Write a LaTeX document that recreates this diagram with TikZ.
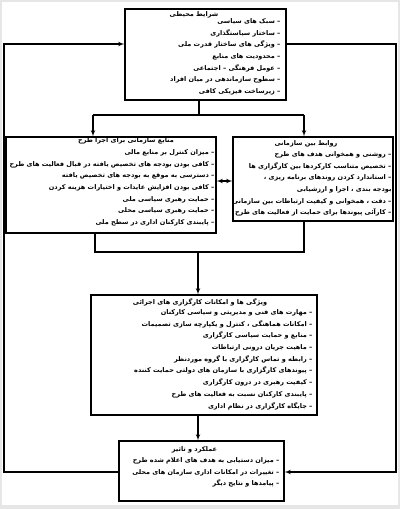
\documentclass[tikz,border=0pt]{standalone}
\usepackage{fontspec}
\usepackage{tikz}
\usetikzlibrary{arrows}
\newfontfamily\arabicfont[Script=Arabic]{DejaVu Sans}
\TeXXeTstate=1
\newcommand{\fa}[1]{\beginR #1\endR}
\definecolor{framegray}{RGB}{230,230,230}

\begin{document}
\begin{tikzpicture}[x=1pt,y=-1pt,>=latex',line width=1.1pt,
    box node/.style={draw,rectangle,inner sep=0pt},
    list node/.style={inner sep=0pt,align=right,font=\arabicfont\bfseries\fontsize{6.5}{11.7}\selectfont},
    title node/.style={inner sep=0pt,font=\arabicfont\bfseries\fontsize{6.5}{11.7}\selectfont}]
  \fill[framegray] (0,0) rectangle (400,509);
  \fill[white] (2,2) rectangle (398,505);
  \useasboundingbox (0,0) rectangle (400,509);

  % boxes
  \node[box node,minimum width=161pt,minimum height=91pt] (env) at (205.5,54.5) {};
  \node[box node,minimum width=210pt,minimum height=96pt] (res) at (111,185) {};
  \node[box node,minimum width=160pt,minimum height=84pt] (rel) at (313,179) {};
  \node[box node,minimum width=226pt,minimum height=120pt] (agency) at (204,355) {};
  \node[box node,minimum width=165pt,minimum height=60pt] (perf) at (201.5,471) {};

  % texts
  \node[title node] (envtitle) at (194,15) {\fa{شرایط محیطی}};
  \node[list node,anchor=north east] (envlist) at (281,18) {%
    \fa{– سبک های سیاسی}\\
    \fa{– ساختار سیاستگذاری}\\
    \fa{– ویژگی های ساختار قدرت ملی}\\
    \fa{– محدودیت های منابع}\\
    \fa{– عومل فرهنگی – اجتماعی}\\
    \fa{– سطوح سازماندهی در میان افراد}\\
    \fa{– زیرساخت فیزیکی کافی}};

  \node[title node] (restitle) at (126,141) {\fa{منابع سازمانی برای اجرا طرح}};
  \node[list node,anchor=north east] (reslist) at (215,149) {%
    \fa{– میزان کنترل بر منابع مالی}\\
    \fa{– کافی بودن بودجه های تخصیص یافته در قبال فعالیت های طرح}\\
    \fa{– دسترسی به موقع به بودجه های تخصیص یافته}\\
    \fa{– کافی بودن افزایش عایدات و اختیارات هزینه کردن}\\
    \fa{– حمایت رهبری سیاسی ملی}\\
    \fa{– حمایت رهبری سیاسی محلی}\\
    \fa{– پایبندی کارکنان اداری در سطح ملی}};

  \node[title node] (reltitle) at (306,144) {\fa{روابط بین سازمانی}};
  \node[list node,anchor=north east] (rellist) at (392,151) {%
    \fa{– روشنی و همخوانی هدف های طرح}\\
    \fa{– تخصیص متناسب کارکردها بین کارگزاری ها}\\
    \fa{– استاندارد کردن روندهای برنامه ریزی ،}\\
    \fa{بودجه بندی ، اجرا و ارزشیابی}\\
    \fa{– دقت ، همخوانی و کیفیت ارتباطات بین سازمانی}\\
    \fa{– کارآئی پیوندها برای حمایت از فعالیت های طرح}};

  \node[title node] (agencytitle) at (200,302) {\fa{ویژگی ها و امکانات کارگزاری های اجرائی}};
  \node[list node,anchor=north east] (agencylist) at (313,309) {%
    \fa{– مهارت های فنی و مدیریتی و سیاسی کارکنان}\\
    \fa{– امکانات هماهنگی ، کنترل و یکپارچه سازی تصمیمات}\\
    \fa{– منابع و حمایت سیاسی کارگزاری}\\
    \fa{– ماهیت جریان درونی ارتباطات}\\
    \fa{– رابطه و تماس کارگزاری با گروه موردنظر}\\
    \fa{– پیوندهای کارگزاری با سازمان های دولتی حمایت کننده}\\
    \fa{– کیفیت رهبری در درون کارگزاری}\\
    \fa{– پایبندی کارکنان نسبت به فعالیت های طرح}\\
    \fa{– جایگاه کارگزاری در نظام اداری}};

  \node[title node] (perftitle) at (194.5,450) {\fa{عملکرد و تاثیر}};
  \node[list node,anchor=north east] (perflist) at (280,457) {%
    \fa{– میزان دستیابی به هدف های اعلام شده طرح}\\
    \fa{– تغییرات در امکانات اداری سازمان های محلی}\\
    \fa{– پیامدها و نتایج دیگر}};

  % junctions
  \coordinate (split) at (199,115);
  \coordinate (resin) at (93,115);
  \coordinate (relin) at (304,115);
  \coordinate (resout) at (95,252);
  \coordinate (relout) at (304,252);
  \coordinate (join) at (198,252);
  \coordinate (midrow) at (0,181);
  \coordinate (toprow) at (0,44);
  \coordinate (fbrow) at (0,472);
  \coordinate (fbl) at (4,0);
  \coordinate (fbr) at (396,0);

  % connectors
  \draw (split |- env.south) -- (split);
  \draw (resin) -- (relin);
  \draw[->] (resin) -- (resin |- res.north);
  \draw[->] (relin) -- (relin |- rel.north);
  \draw[<->] (res.east |- midrow) -- (rel.west |- midrow);
  \draw (resout |- res.south) -- (resout) -- (relout) -- (relout |- rel.south);
  \draw[->] (join) -- (join |- agency.north);
  \draw[->] (join |- agency.south) -- (join |- perf.north);
  \draw[->] (perf.west |- fbrow) -- (fbl |- fbrow) -- (fbl |- toprow) -- (env.west |- toprow);
  \draw[->] (env.east |- toprow) -- (fbr |- toprow) -- (fbr |- fbrow) -- (perf.east |- fbrow);
\end{tikzpicture}
\end{document}
